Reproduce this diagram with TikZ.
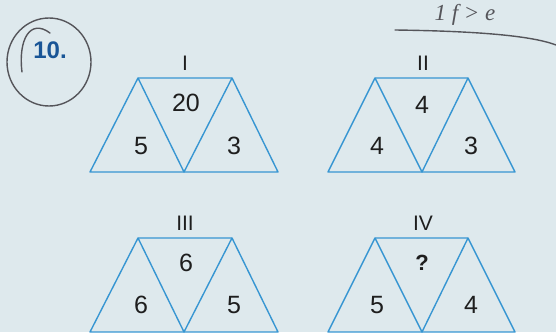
\documentclass[tikz,border=0pt]{standalone}
\usepackage{fontspec}
\setmainfont{Liberation Sans}
\newfontfamily\handfont{Liberation Serif}
\usetikzlibrary{positioning}
\definecolor{pagebg}{RGB}{222,233,237}
\definecolor{triborder}{RGB}{55,150,210}
\definecolor{numcol}{RGB}{30,30,30}
\definecolor{qnumcol}{RGB}{25,85,150}
\definecolor{pencil}{RGB}{85,85,90}

\begin{document}
\begin{tikzpicture}[
                x=1pt, y=-1pt,
                trishape/.style={draw=triborder, line width=1.4pt, line join=round},
                numlabel/.style={font=\fontsize{25}{27}\selectfont, text=numcol, inner sep=0pt},
                romanlabel/.style={font=\fontsize{21}{23}\selectfont, text=numcol, inner sep=0pt},
                pencilline/.style={draw=pencil, line width=1.4pt, line cap=round}
                ]
                \fill[pagebg] (0,0) rectangle (556,332);
                \useasboundingbox (0,0) rectangle (556,332);

                % question number, circled by hand
                \node[font=\bfseries\fontsize{24}{26}\selectfont, text=qnumcol, inner sep=0pt] (qnum) at (50,50) {10.};
                \draw[pencilline] (49,62) ellipse [x radius=42, y radius=44];
                \draw[pencilline] (22,72) .. controls (18,40) and (30,18) .. (50,33);

                % pencil note at the top
                \node[font=\handfont\itshape\fontsize{23}{25}\selectfont, text=pencil, inner sep=0pt] (note) at (465,15) {1 f > e};
                \draw[pencilline] (395,30) .. controls (470,31) and (530,35) .. (556,45);

                % figure I
                \draw[trishape] (90,172) -- (138,78) -- (232,78) -- (278,172) -- cycle;
                \draw[trishape] (138,78) -- (184,172) -- (232,78);
                \node[romanlabel] (titleA) at (185,63) {I};
                \node[numlabel] (topA) at (186,103) {20};
                \node[numlabel] (leftA) at (141,146) {5};
                \node[numlabel] (rightA) at (234,146) {3};

                % figure II
                \draw[trishape] (328,172) -- (375,78) -- (468,78) -- (515,172) -- cycle;
                \draw[trishape] (375,78) -- (422,172) -- (468,78);
                \node[romanlabel] (titleB) at (423,63) {II};
                \node[numlabel] (topB) at (422,105) {4};
                \node[numlabel] (leftB) at (377,146) {4};
                \node[numlabel] (rightB) at (471,146) {3};

                % figure III
                \draw[trishape] (90,332) -- (138,238) -- (232,238) -- (278,332) -- cycle;
                \draw[trishape] (138,238) -- (184,332) -- (232,238);
                \node[romanlabel] (titleC) at (185,223) {III};
                \node[numlabel] (topC) at (186,263) {6};
                \node[numlabel] (leftC) at (141,305) {6};
                \node[numlabel] (rightC) at (234,305) {5};

                % figure IV
                \draw[trishape] (328,332) -- (375,238) -- (468,238) -- (515,332) -- cycle;
                \draw[trishape] (375,238) -- (422,332) -- (468,238);
                \node[romanlabel] (titleD) at (423,223) {IV};
                \node[numlabel, font=\bfseries\fontsize{22}{24}\selectfont] (topD) at (422,263) {?};
                \node[numlabel] (leftD) at (377,305) {5};
                \node[numlabel] (rightD) at (471,305) {4};
            \end{tikzpicture}
\end{document}
